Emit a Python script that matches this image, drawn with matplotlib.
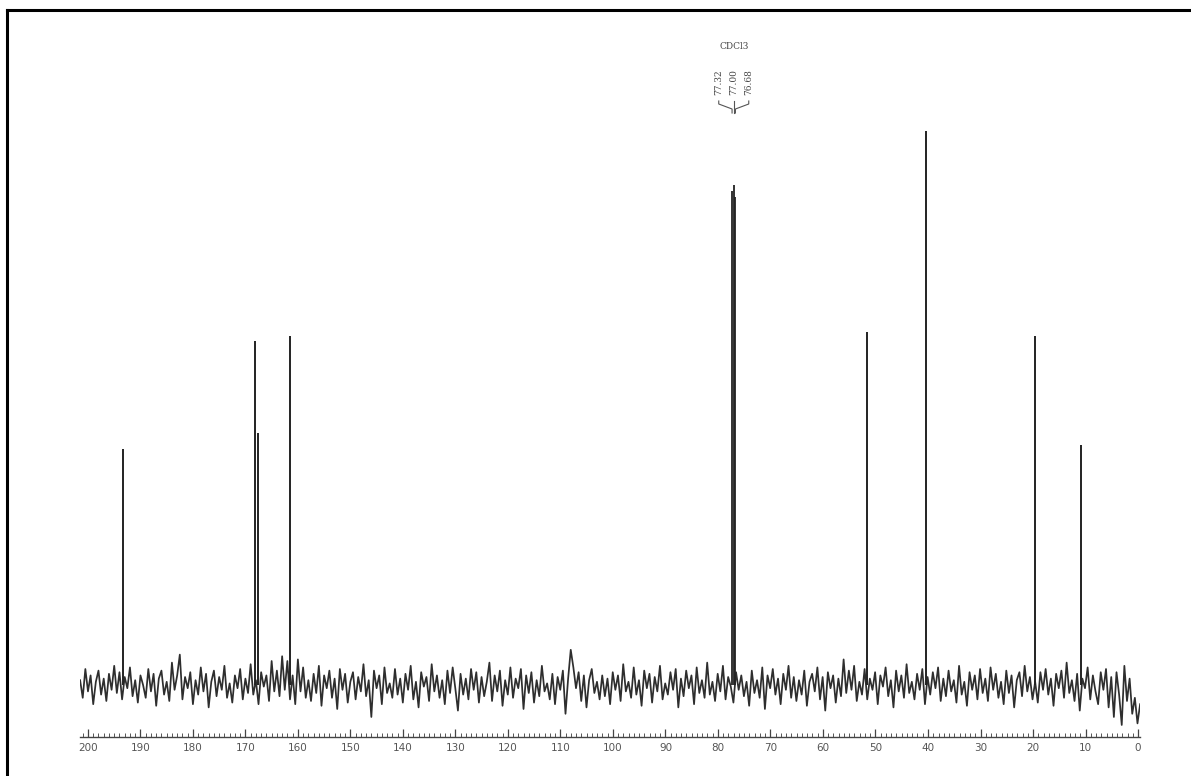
import numpy as np
import matplotlib
matplotlib.use("Agg")
import matplotlib.pyplot as plt
from matplotlib.lines import Line2D

# 13C NMR peaks (ppm) and heights (baseline = 0)
peak_ppm = [193.3, 168.2, 167.6, 161.5, 51.6, 40.4, 19.6, 10.9]
peak_height = [236, 344, 252, 349, 353, 554, 349, 240]

# solvent triplet
cdcl3_ppm = [77.32, 77.00, 76.68]
cdcl3_height = [494, 500, 488]
cdcl3_labels = ["77.32", "77.00", "76.68"]

# baseline noise, one value every 0.5 ppm from 201.5 down to -0.5
# (read in small units, noise_unit converts to the peak scale)
noise_unit = 1.6
noise = [
    3, -8, 10, -4, 6, -12, 2, 9, -6, 4, -10, 7, -3, 12, -5,
    8, -9, 5, -2, 11, -7, 3, -11, 6, 0, -8, 10, -4, 7, -13,
    4, 9, -6, 2, -10, 14, -3, 6, 19, -9, 5, -2, 8, -12, 3,
    -6, 11, -4, 7, -14, 2, 9, -7, 5, -3, 12, -8, 1, -11, 6,
    -2, 10, -9, 4, -5, 13, -6, 3, -12, 8, -1, 6, -10, 15, -4,
    9, -7, 18, -3, 15, -9, 6, -12, 16, -4, 11, -8, 3, -10, 7,
    -5, 12, -13, 6, -2, 9, -8, 4, -15, 10, -3, 7, -11, 2, 8,
    -9, 5, -4, 13, -7, 3, -20, 9, -2, 6, -12, 11, -5, 1, -8,
    10, -6, 4, -11, 7, -3, 12, -9, 2, -14, 8, -1, 5, -10, 13,
    -4, 6, -8, 3, -12, 9, -5, 11, -2, -16, 7, -6, 4, -9, 10,
    -3, 8, -11, 5, -7, 2, 14, -10, 6, -4, 9, -13, 3, -6, 11,
    -8, 4, -2, 10, -15, 6, -5, 8, -11, 3, -7, 12, -4, 1, -9,
    7, -12, 5, -3, 9, -18, 4, 22, 11, -2, 8, -10, 6, -14, 3,
    10, -5, 2, -9, 6, -7, 4, -12, 8, -3, 6, -10, 13, -4, 2,
    -8, 11, -6, 3, -13, 9, -2, 7, -11, 5, -4, 12, -9, 1, -6,
    8, -3, 10, -14, 4, -7, 9, -2, 6, -12, 11, -5, 3, -8, 14,
    -6, 2, -10, 7, -4, 12, -9, 5, -1, -11, 8, -3, 6, -7, 2,
    -13, 9, -5, 3, -8, 11, -15, 6, -2, 10, -6, 4, -12, 7, -3,
    12, -8, 5, -10, 3, -6, 9, -13, 2, 7, -4, 11, -9, 5, -16,
    8, -2, 6, -11, 4, -7, 16, -5, 9, -3, 12, -10, 2, -6, 10,
    -9, 4, -3, 8, -12, 6, -1, 11, -7, 3, -14, 9, -4, 6, -8,
    13, -5, 2, -9, 7, -3, 10, -12, 5, -6, 8, -2, 11, -10, 4,
    -7, 9, -4, 3, -11, 12, -6, 2, -13, 8, -3, 6, -9, 10, -5,
    4, -10, 11, -3, 7, -8, 2, -12, 9, -5, 6, -14, 3, 8, -7,
    12, -4, 5, -9, 2, -11, 8, -3, 10, -6, 4, -13, 7, -2, 9,
    -8, 14, -5, 3, -10, 7, -16, 4, -2, 11, -9, 6, -4, -12, 8,
    -3, 10, -14, 5, -20, 8, -6, -25, 12, -10, 4, -18, -8, -24, -12,
]

W, H = 1191, 776
fig = plt.figure(figsize=(W / 100, H / 100), dpi=100)
fig.patch.set_facecolor("white")

# axes placed so the ppm scale sits where it does on the scan
ax = fig.add_axes([80 / W, 1 - 737 / H, 1060 / W, (737 - 12) / H])
ax.set_xlim(201.52, -0.38)
ax.set_ylim(-52, 673)

x_noise = np.linspace(201.5, -0.4, len(noise))
ax.plot(x_noise, np.array(noise) * noise_unit, color="#2e2e2e", lw=1.25)

ax.vlines(peak_ppm, 0, peak_height, color="#222222", lw=1.4)
ax.vlines(cdcl3_ppm, 0, cdcl3_height, color="#222222", lw=1.3)

# solvent label block above the triplet
ppm_per_px = (201.52 + 0.38) / 1060
spread = 15 * ppm_per_px
center = cdcl3_ppm[1]
ax.text(center, 639, "CDCl3", ha="center", va="center", fontsize=6.5,
        color="#444444", family="DejaVu Serif")
for i, (p, lab) in enumerate(zip(cdcl3_ppm, cdcl3_labels)):
    lx = center + (1 - i) * spread
    ax.text(lx, 603, lab, rotation=90, ha="center", va="center",
            fontsize=6.5, color="#444444", family="DejaVu Serif")
    ax.plot([lx, lx, p, p], [584, 581, 576, 572], color="#555555", lw=0.8)

# ppm axis
for s in ["left", "right", "top"]:
    ax.spines[s].set_visible(False)
ax.spines["bottom"].set_color("#444444")
ax.spines["bottom"].set_linewidth(1.0)
ax.set_yticks([])
ax.set_xticks(np.arange(200, -1, -10))
ax.set_xticks(np.arange(201, -1, -1), minor=True)
ax.tick_params(axis="x", which="major", direction="in", length=6, width=0.9,
               color="#444444", labelsize=7.5, labelcolor="#555555", pad=4)
ax.tick_params(axis="x", which="minor", direction="in", length=3, width=0.7,
               color="#555555")

# scan frame (top and left edge)
fig.add_artist(Line2D([7 / W, 1], [1 - 10 / H, 1 - 10 / H], color="black", lw=2.2))
fig.add_artist(Line2D([7 / W, 7 / W], [0, 1 - 10 / H], color="black", lw=2.2))

fig.savefig("out.png", dpi=100)
